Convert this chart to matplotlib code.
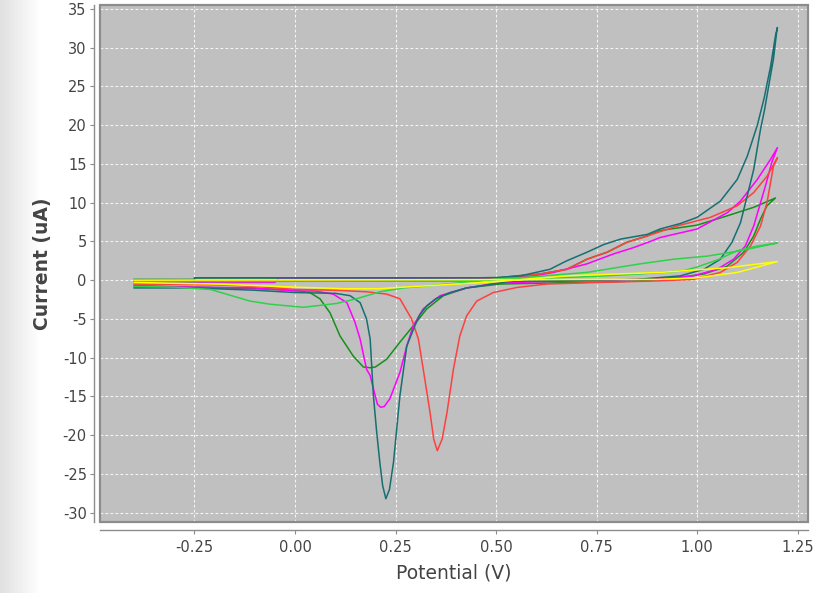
import numpy as np
import matplotlib
matplotlib.use("Agg")
import matplotlib.pyplot as plt
from matplotlib.patches import Rectangle

# ---------------- data (potential V, current uA) ----------------
teal_x = [-0.40, -0.25, -0.25, 0.45, 0.51, 0.56, 0.634, 0.676, 0.726, 0.768, 0.81, 0.876, 0.908,
          0.958, 1.00, 1.058, 1.10, 1.125, 1.15, 1.167, 1.183, 1.195, 1.20,
          1.198, 1.19, 1.178, 1.168, 1.158, 1.141, 1.125, 1.108, 1.087, 1.058, 1.017,
          0.958, 0.85, 0.75, 0.65, 0.535, 0.468, 0.427, 0.386, 0.35, 0.328, 0.31, 0.298,
          0.278, 0.261, 0.245, 0.235, 0.226, 0.218, 0.211, 0.203, 0.195, 0.187, 0.178, 0.162,
          0.137, 0.10, 0.00, -0.10, -0.25, -0.40]
teal_y = [-0.2, -0.2, 0.3, 0.3, 0.35, 0.55, 1.4, 2.5, 3.6, 4.6, 5.3, 5.9, 6.6,
          7.3, 8.1, 10.2, 13.0, 16.0, 20.0, 23.5, 27.6, 31.5, 32.6,
          32.0, 28.5, 25.0, 22.0, 19.5, 14.3, 10.9, 7.4, 4.9, 2.7, 1.4,
          0.55, 0.1, 0.0, -0.1, -0.15, -0.7, -1.0, -1.6, -2.4, -3.3, -4.5, -5.9,
          -8.5, -14.9, -23.5, -27.0, -28.2, -26.5, -23.5, -19.5, -14.9, -7.6, -5.0, -2.9,
          -2.0, -1.7, -1.6, -1.3, -1.0, -1.0]

magenta_x = [-0.40, -0.05, -0.04, 0.50, 0.55, 0.60, 0.643, 0.726, 0.793, 0.842, 0.884, 0.908,
             1.00, 1.075, 1.108, 1.15, 1.183, 1.20,
             1.186, 1.172, 1.158, 1.141, 1.12, 1.091, 1.05, 0.99, 0.90, 0.80, 0.70,
             0.60, 0.50, 0.427, 0.361, 0.319, 0.294, 0.278, 0.261, 0.236, 0.222, 0.213,
             0.205, 0.195, 0.187, 0.178, 0.162, 0.149, 0.129, 0.095, 0.05, 0.00, -0.10, -0.40]
magenta_y = [-0.3, -0.3, 0.3, 0.3, 0.4, 0.6, 1.0, 2.1, 3.4, 4.2, 5.0, 5.5,
             6.6, 8.7, 10.2, 13.0, 15.6, 17.1,
             15.2, 12.5, 10.0, 7.0, 4.4, 2.7, 1.4, 0.55, 0.2, 0.0, -0.1,
             -0.2, -0.4, -1.0, -2.0, -3.7, -5.9, -8.5, -11.9, -15.3, -16.3, -16.4,
             -16.0, -14.0, -12.3, -11.5, -7.6, -5.4, -2.9, -1.8, -1.4, -1.4, -1.0, -0.8]

red_x = [-0.40, 0.45, 0.519, 0.61, 0.676, 0.726, 0.776, 0.826, 0.876, 0.951, 1.033,
         1.10, 1.141, 1.174, 1.20,
         1.19, 1.174, 1.158, 1.133, 1.10, 1.058, 0.99, 0.90, 0.75, 0.626, 0.552, 0.493,
         0.452, 0.427, 0.41, 0.394, 0.378, 0.366, 0.354, 0.345, 0.336, 0.319, 0.307, 0.29,
         0.261, 0.228, 0.178, 0.10, 0.00, -0.10, -0.20, -0.40]
red_y = [-0.1, -0.1, 0.3, 0.8, 1.4, 2.7, 3.6, 4.9, 5.7, 7.0, 8.1,
         9.6, 11.3, 13.4, 15.8,
         14.7, 10.0, 7.0, 4.4, 2.3, 1.0, 0.1, -0.1, -0.3, -0.5, -0.94, -1.6,
         -2.7, -4.6, -7.2, -11.5, -17.1, -20.5, -22.0, -20.5, -17.1, -11.5, -7.6, -5.0,
         -2.4, -1.8, -1.5, -1.3, -1.2, -0.8, -0.6, -0.5]

dkgreen_x = [-0.40, -0.25, -0.25, 0.50, 0.56, 0.61, 0.676, 0.726, 0.776, 0.826, 0.876,
             0.908, 1.00, 1.075, 1.141, 1.195,
             1.174, 1.158, 1.141, 1.116, 1.075, 1.017, 0.95, 0.90, 0.80, 0.70, 0.60,
             0.51, 0.427, 0.369, 0.328, 0.294, 0.261, 0.228, 0.20, 0.187, 0.17, 0.145, 0.112,
             0.087, 0.062, 0.037, 0.00, -0.10, -0.40]
dkgreen_y = [0.1, 0.1, 0.3, 0.3, 0.6, 0.8, 1.4, 2.7, 3.6, 4.9, 5.7,
             6.4, 7.1, 8.3, 9.4, 10.6,
             9.6, 7.9, 5.7, 3.6, 1.8, 0.8, 0.3, 0.0, -0.2, -0.3, -0.4,
             -0.5, -1.0, -2.0, -3.7, -5.9, -8.0, -10.2, -11.2, -11.3, -11.2, -9.8, -7.2,
             -4.2, -2.4, -1.6, -1.3, -1.1, -0.7]

ltgreen_x = [-0.40, 0.40, 0.60, 0.75, 0.858, 0.966, 1.00, 1.05, 1.10, 1.15, 1.20,
             1.108, 1.025, 0.941, 0.858, 0.726, 0.56, 0.51, 0.40, 0.27, 0.211, 0.153, 0.104,
             0.021, -0.062, -0.112, -0.21, -0.30, -0.40]
ltgreen_y = [-0.2, -0.1, 0.2, 0.5, 0.8, 1.2, 1.7, 2.6, 3.8, 4.4, 4.8,
             3.8, 3.1, 2.7, 2.1, 1.0, 0.3, 0.2, -0.4, -1.0, -1.5, -2.4, -3.0,
             -3.5, -3.1, -2.7, -1.2, -0.9, -0.8]

yellow_x = [-0.40, 0.90, 1.00, 1.10, 1.20,
            1.075, 0.908, 0.858, 0.75, 0.676, 0.50, 0.40, 0.27, 0.21, 0.12, 0.00,
            -0.20, -0.40]
yellow_y = [0.0, 0.1, 0.3, 1.0, 2.4,
            1.6, 1.0, 0.9, 0.7, 0.55, -0.2, -0.5, -0.9, -1.1, -1.1, -0.9,
            -0.5, -0.3]

series = [
    (dkgreen_x, dkgreen_y, "#17901a"),
    (magenta_x, magenta_y, "#ff00ff"),
    (red_x, red_y, "#ff4040"),
    (teal_x, teal_y, "#176f72"),
    (ltgreen_x, ltgreen_y, "#2dd24a"),
    (yellow_x, yellow_y, "#ffff00"),
]

x_ticks = [-0.25, 0.00, 0.25, 0.50, 0.75, 1.00, 1.25]
y_ticks = list(range(-30, 40, 5))

# ---------------- figure ----------------
W, H, DPI = 824, 593, 100
fig = plt.figure(figsize=(W / DPI, H / DPI), dpi=DPI)
fig.patch.set_facecolor("white")

# light gradient strip on the left edge
gax = fig.add_axes([0, 0, 40 / W, 1])
grad = np.linspace(0.88, 1.0, 64)[None, :]
gax.imshow(np.repeat(grad[..., None], 3, axis=2), aspect="auto", extent=[0, 1, 0, 1])
gax.set_axis_off()

ax = fig.add_axes([100 / W, 1 - 522 / H, 708 / W, 517 / H])
ax.set_facecolor("#c0c0c0")

for xs, ys, c in series:
    ax.plot(xs, ys, color=c, lw=1.1, solid_joinstyle="round")

ax.set_xlim(-0.485, 1.276)
ax.set_ylim(-31.2, 35.5)
ax.set_xticks(x_ticks)
ax.set_xticklabels([f"{v:.2f}" for v in x_ticks])
ax.set_yticks(y_ticks)
ax.set_yticklabels([str(v) for v in y_ticks])

ax.grid(True, color="white", lw=0.8, linestyle=(0, (2.5, 2)), alpha=0.85)
ax.set_axisbelow(True)

for s in ["top", "right"]:
    ax.spines[s].set_visible(False)
ax.spines["left"].set_position(("outward", 4.5))
ax.spines["bottom"].set_position(("outward", 5.8))
for s in ["left", "bottom"]:
    ax.spines[s].set_color("#8c8c8c")
    ax.spines[s].set_linewidth(1.0)

ax.add_patch(Rectangle((0, 0), 1, 1, transform=ax.transAxes, fill=False,
                       edgecolor="#8c8c8c", lw=1.6, clip_on=False, zorder=5))

ax.tick_params(axis="both", direction="out", length=3, width=0.8, color="#8c8c8c",
               labelcolor="#444444", labelsize=10.5)
ax.tick_params(axis="x", pad=4)
ax.tick_params(axis="y", pad=2)

ax.set_xlabel("Potential (V)", fontsize=13.5, color="#444444", labelpad=6)
ax.set_ylabel("Current (uA)", fontsize=13.5, color="#444444", fontweight="bold", labelpad=8)

fig.savefig("out.png", dpi=DPI)
